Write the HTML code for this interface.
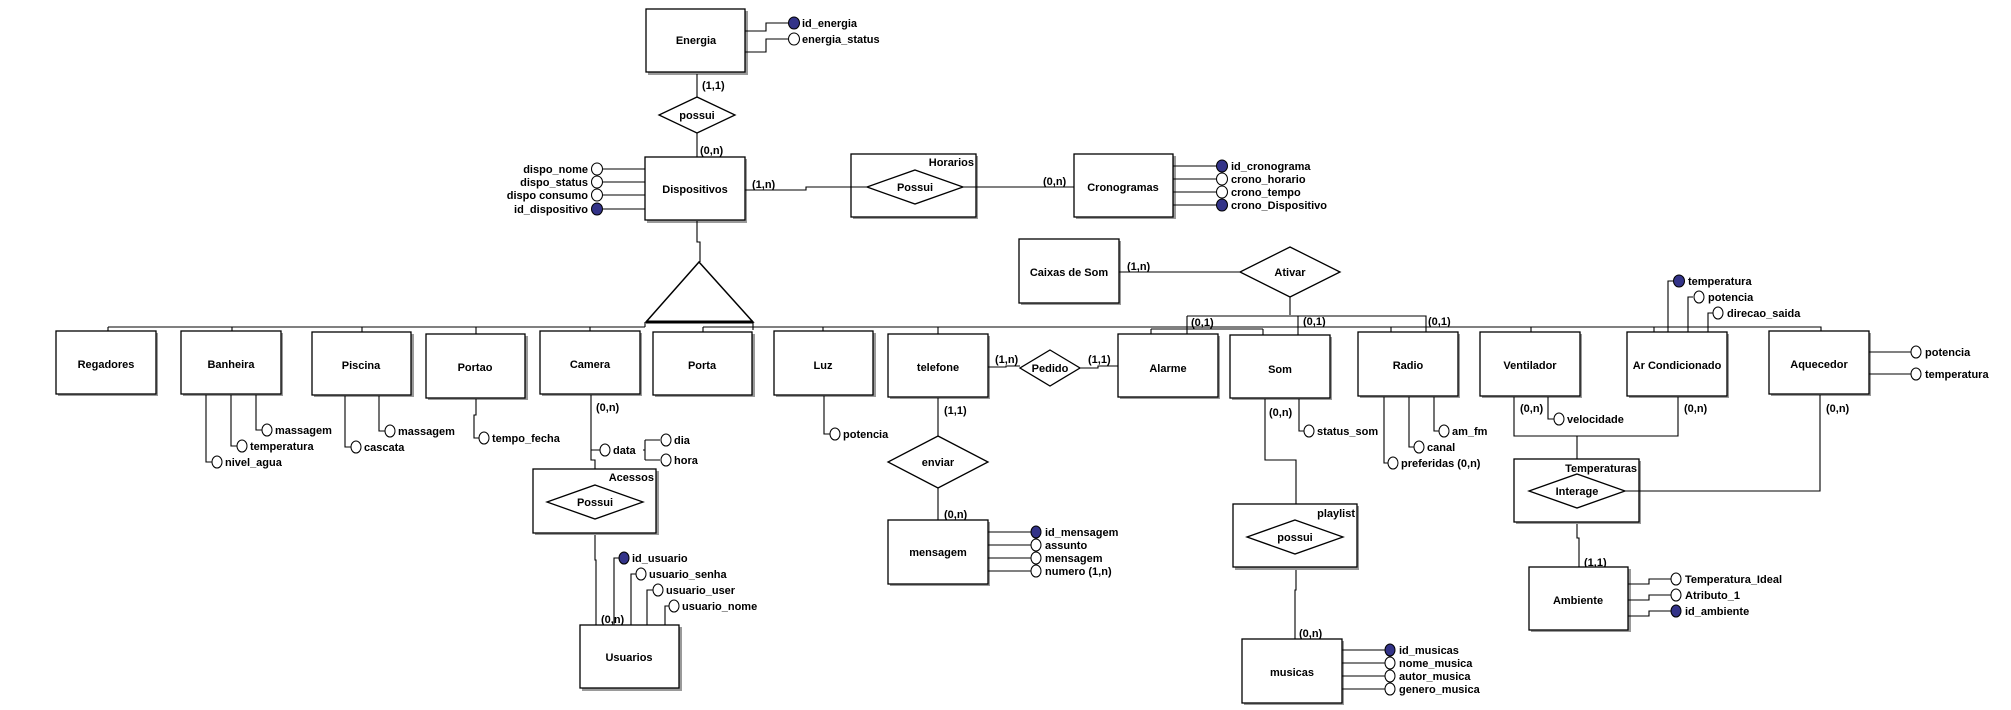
<!DOCTYPE html>
<html><head><meta charset="utf-8"><style>
html,body{margin:0;padding:0;background:#fff;}
svg{display:block;}
text{font-family:"Liberation Sans",Arial,sans-serif;font-weight:bold;font-size:11px;fill:#000;}
.b{fill:#fff;stroke:#000;stroke-width:1.3;}
.sh{fill:#9a9a9a;}
.l{fill:none;stroke:#000;stroke-width:1.1;}
.o{fill:#fff;stroke:#000;stroke-width:1;}
.f{fill:#333388;stroke:#000;stroke-width:1;}
</style></head><body>
<svg width="2011" height="710" viewBox="0 0 2011 710" xmlns="http://www.w3.org/2000/svg">
<defs></defs>
<!-- helper: boxes with shadow -->
<g id="boxes">
<!-- Energia -->
<rect class="sh" x="648" y="11" width="100" height="64"/><rect class="b" x="646" y="9" width="99" height="63"/>
<text x="696" y="44" text-anchor="middle">Energia</text>
<!-- Dispositivos -->
<rect class="sh" x="647" y="159" width="100" height="64"/><rect class="b" x="645" y="157" width="100" height="63"/>
<text x="695" y="193" text-anchor="middle">Dispositivos</text>
<!-- Horarios -->
<rect class="sh" x="853" y="156" width="125" height="63"/><rect class="b" x="851" y="154" width="125" height="63"/>
<text x="974" y="166" text-anchor="end">Horarios</text>
<!-- Cronogramas -->
<rect class="sh" x="1076" y="156" width="100" height="63"/><rect class="b" x="1074" y="154" width="99" height="63"/>
<text x="1123" y="191" text-anchor="middle">Cronogramas</text>
<!-- Caixas de Som -->
<rect class="sh" x="1021" y="241" width="100" height="64"/><rect class="b" x="1019" y="239" width="100" height="64"/>
<text x="1069" y="276" text-anchor="middle">Caixas de Som</text>
</g>

<!-- Energia attributes -->
<path class="l" d="M745 31 H766 V23 H788 M745 52 H766 V39 H788"/>
<ellipse class="f" cx="794" cy="23" rx="5.5" ry="6"/><text x="802" y="27">id_energia</text>
<ellipse class="o" cx="794" cy="39" rx="5.5" ry="6"/><text x="802" y="43">energia_status</text>

<!-- Energia - possui - Dispositivos -->
<path class="l" d="M697 74 V97 M697 133 V157"/>
<polygon class="b" points="697,97 735,115 697,133 659,115"/><text x="697" y="119" text-anchor="middle">possui</text>
<text x="702" y="89">(1,1)</text><text x="700" y="154">(0,n)</text>

<!-- Dispositivos attributes -->
<path class="l" d="M603 169 H645 M603 182 H645 M603 195 H645 M603 209 H645"/>
<ellipse class="o" cx="597" cy="169" rx="5.5" ry="6"/><text x="588" y="173" text-anchor="end">dispo_nome</text>
<ellipse class="o" cx="597" cy="182" rx="5.5" ry="6"/><text x="588" y="186" text-anchor="end">dispo_status</text>
<ellipse class="o" cx="597" cy="195" rx="5.5" ry="6"/><text x="588" y="199" text-anchor="end">dispo consumo</text>
<ellipse class="f" cx="597" cy="209" rx="5.5" ry="6"/><text x="588" y="213" text-anchor="end">id_dispositivo</text>

<!-- Dispositivos - Horarios - Cronogramas -->
<path class="l" d="M745 190 H806 V187 H867 M963 187 H1074"/>
<polygon class="b" points="915,170 963,187 915,204 867,187"/><text x="915" y="191" text-anchor="middle">Possui</text>
<text x="752" y="188">(1,n)</text><text x="1043" y="185">(0,n)</text>

<!-- Crono attributes -->
<path class="l" d="M1173 166 H1217 M1173 179 H1217 M1173 192 H1217 M1173 205 H1217"/>
<ellipse class="f" cx="1222" cy="166" rx="5.5" ry="6"/><text x="1231" y="170">id_cronograma</text>
<ellipse class="o" cx="1222" cy="179" rx="5.5" ry="6"/><text x="1231" y="183">crono_horario</text>
<ellipse class="o" cx="1222" cy="192" rx="5.5" ry="6"/><text x="1231" y="196">crono_tempo</text>
<ellipse class="f" cx="1222" cy="205" rx="5.5" ry="6"/><text x="1231" y="209">crono_Dispositivo</text>

<!-- Caixas - Ativar -->
<path class="l" d="M1119 272 H1240"/>
<polygon class="b" points="1290,247 1340,272 1290,297 1240,272"/><text x="1290" y="276" text-anchor="middle">Ativar</text>
<text x="1127" y="270">(1,n)</text>
<path class="l" d="M1290 297 V315 M1187 316 H1426 V332 M1187 316 V334 M1298 316 V335 M1151 329 H1263 M1151 329 V334 M1263 329 V335"/>
<text x="1191" y="326">(0,1)</text><text x="1303" y="325">(0,1)</text><text x="1428" y="325">(0,1)</text>

<!-- Generalization -->
<path class="l" d="M697 221 V242 H700 V262"/>
<polygon fill="#fff" stroke="#000" stroke-width="1.5" points="699,262 753,322 646,322"/>
<path stroke="#000" stroke-width="3" d="M646 322 H753"/>
<path class="l" d="M108 327 H645 M645 327 V322 M753 322 V330 M703 327 H1821 V331"/>
<path class="l" d="M108 327 V331 M232 327 V331 M362 327 V332 M476 327 V334 M590 327 V331 M703 327 V332 M823 327 V331 M938 327 V334 M1391 327 V332 M1531 327 V332 M1654 327 V332"/>

<!-- row boxes -->
<g>
<rect class="sh" x="58" y="333" width="100" height="63"/><rect class="b" x="56" y="331" width="100" height="63"/><text x="106" y="368" text-anchor="middle">Regadores</text>
<rect class="sh" x="183" y="333" width="100" height="63"/><rect class="b" x="181" y="331" width="100" height="63"/><text x="231" y="368" text-anchor="middle">Banheira</text>
<rect class="sh" x="314" y="334" width="100" height="63"/><rect class="b" x="312" y="332" width="99" height="63"/><text x="361" y="369" text-anchor="middle">Piscina</text>
<rect class="sh" x="428" y="336" width="100" height="64"/><rect class="b" x="426" y="334" width="99" height="64"/><text x="475" y="371" text-anchor="middle">Portao</text>
<rect class="sh" x="542" y="333" width="100" height="63"/><rect class="b" x="540" y="331" width="100" height="63"/><text x="590" y="368" text-anchor="middle">Camera</text>
<rect class="sh" x="655" y="334" width="100" height="63"/><rect class="b" x="653" y="332" width="99" height="63"/><text x="702" y="369" text-anchor="middle">Porta</text>
<rect class="sh" x="776" y="333" width="100" height="64"/><rect class="b" x="774" y="331" width="99" height="64"/><text x="823" y="369" text-anchor="middle">Luz</text>
<rect class="sh" x="890" y="336" width="100" height="63"/><rect class="b" x="888" y="334" width="100" height="63"/><text x="938" y="371" text-anchor="middle">telefone</text>
<rect class="sh" x="1120" y="336" width="100" height="63"/><rect class="b" x="1118" y="334" width="100" height="63"/><text x="1168" y="372" text-anchor="middle">Alarme</text>
<rect class="sh" x="1232" y="337" width="100" height="63"/><rect class="b" x="1230" y="335" width="100" height="63"/><text x="1280" y="373" text-anchor="middle">Som</text>
<rect class="sh" x="1360" y="334" width="100" height="64"/><rect class="b" x="1358" y="332" width="100" height="64"/><text x="1408" y="369" text-anchor="middle">Radio</text>
<rect class="sh" x="1482" y="334" width="100" height="64"/><rect class="b" x="1480" y="332" width="100" height="64"/><text x="1530" y="369" text-anchor="middle">Ventilador</text>
<rect class="sh" x="1629" y="334" width="100" height="64"/><rect class="b" x="1627" y="332" width="100" height="64"/><text x="1677" y="369" text-anchor="middle">Ar Condicionado</text>
<rect class="sh" x="1771" y="333" width="100" height="63"/><rect class="b" x="1769" y="331" width="100" height="63"/><text x="1819" y="368" text-anchor="middle">Aquecedor</text>
</g>

<!-- Banheira attrs -->
<path class="l" d="M206 395 V462 H212 M231 395 V446 H237 M256 395 V430 H262"/>
<ellipse class="o" cx="267" cy="430" rx="5" ry="6"/><text x="275" y="434">massagem</text>
<ellipse class="o" cx="242" cy="446" rx="5" ry="6"/><text x="250" y="450">temperatura</text>
<ellipse class="o" cx="217" cy="462" rx="5" ry="6"/><text x="225" y="466">nivel_agua</text>
<!-- Piscina -->
<path class="l" d="M345 396 V447 H351 M379 396 V431 H385"/>
<ellipse class="o" cx="390" cy="431" rx="5" ry="6"/><text x="398" y="435">massagem</text>
<ellipse class="o" cx="356" cy="447" rx="5" ry="6"/><text x="364" y="451">cascata</text>
<!-- Portao -->
<path class="l" d="M476 399 V415 H474 V438 H479"/>
<ellipse class="o" cx="484" cy="438" rx="5" ry="6"/><text x="492" y="442">tempo_fecha</text>
<!-- Luz -->
<path class="l" d="M824 396 V434 H830"/>
<ellipse class="o" cx="835" cy="434" rx="5" ry="6"/><text x="843" y="438">potencia</text>

<!-- Camera - Acessos - Usuarios -->
<path class="l" d="M591 395 V450 H600 M591 450 V460 H595 V484 M595 519 V560 H596 V625"/>
<text x="596" y="411">(0,n)</text>
<ellipse class="o" cx="605" cy="450" rx="5" ry="6"/><text x="613" y="454">data</text>
<path class="l" d="M643 450 H645 M645 440 V460 M645 440 H660 M645 460 H660"/>
<ellipse class="o" cx="666" cy="440" rx="5" ry="6"/><text x="674" y="444">dia</text>
<ellipse class="o" cx="666" cy="460" rx="5" ry="6"/><text x="674" y="464">hora</text>
<rect class="sh" x="535" y="471" width="124" height="64"/><rect class="b" x="533" y="469" width="123" height="64"/>
<text x="654" y="481" text-anchor="end">Acessos</text>
<polygon class="b" points="595,485 643,502 595,519 547,502"/><text x="595" y="506" text-anchor="middle">Possui</text>
<rect class="sh" x="582" y="627" width="100" height="64"/><rect class="b" x="580" y="625" width="99" height="63"/>
<text x="629" y="661" text-anchor="middle">Usuarios</text>
<text x="601" y="623">(0,n)</text>
<path class="l" d="M614 625 V558 H619 M631 625 V574 H636 M647 625 V590 H653 M665 625 V606 H669"/>
<ellipse class="f" cx="624" cy="558" rx="5" ry="6"/><text x="632" y="562">id_usuario</text>
<ellipse class="o" cx="641" cy="574" rx="5" ry="6"/><text x="649" y="578">usuario_senha</text>
<ellipse class="o" cx="658" cy="590" rx="5" ry="6"/><text x="666" y="594">usuario_user</text>
<ellipse class="o" cx="674" cy="606" rx="5" ry="6"/><text x="682" y="610">usuario_nome</text>

<!-- telefone - Pedido - Alarme -->
<path class="l" d="M988 367 H1006 V366 H1020 M1080 368 H1098 V366 H1118"/>
<polygon class="b" points="1050,350 1080,368 1050,386 1020,368"/><text x="1050" y="372" text-anchor="middle">Pedido</text>
<text x="995" y="363">(1,n)</text><text x="1088" y="363">(1,1)</text>
<!-- telefone - enviar - mensagem -->
<path class="l" d="M938 398 V436 M938 488 V520"/>
<text x="944" y="414">(1,1)</text><text x="944" y="518">(0,n)</text>
<polygon class="b" points="938,436 988,462 938,488 888,462"/><text x="938" y="466" text-anchor="middle">enviar</text>
<rect class="sh" x="890" y="522" width="100" height="64"/><rect class="b" x="888" y="520" width="100" height="64"/>
<text x="938" y="556" text-anchor="middle">mensagem</text>
<path class="l" d="M988 532 H1031 M988 545 H1031 M988 558 H1031 M988 571 H1031"/>
<ellipse class="f" cx="1036" cy="532" rx="5" ry="6"/><text x="1045" y="536">id_mensagem</text>
<ellipse class="o" cx="1036" cy="545" rx="5" ry="6"/><text x="1045" y="549">assunto</text>
<ellipse class="o" cx="1036" cy="558" rx="5" ry="6"/><text x="1045" y="562">mensagem</text>
<ellipse class="o" cx="1036" cy="571" rx="5" ry="6"/><text x="1045" y="575">numero (1,n)</text>

<!-- Som -->
<path class="l" d="M1265 399 V460 H1296 V520 M1296 554 V590 H1295 V639 M1299 399 V431 H1304"/>
<text x="1269" y="416">(0,n)</text>
<ellipse class="o" cx="1309" cy="431" rx="5" ry="6"/><text x="1317" y="435">status_som</text>
<rect class="sh" x="1235" y="506" width="124" height="64"/><rect class="b" x="1233" y="504" width="124" height="63"/>
<text x="1355" y="517" text-anchor="end">playlist</text>
<polygon class="b" points="1295,520 1343,537 1295,554 1247,537"/><text x="1295" y="541" text-anchor="middle">possui</text>
<text x="1299" y="637">(0,n)</text>
<rect class="sh" x="1244" y="641" width="100" height="64"/><rect class="b" x="1242" y="639" width="100" height="64"/>
<text x="1292" y="676" text-anchor="middle">musicas</text>
<path class="l" d="M1342 650 H1385 M1342 663 H1385 M1342 676 H1385 M1342 689 H1385"/>
<ellipse class="f" cx="1390" cy="650" rx="5" ry="6"/><text x="1399" y="654">id_musicas</text>
<ellipse class="o" cx="1390" cy="663" rx="5" ry="6"/><text x="1399" y="667">nome_musica</text>
<ellipse class="o" cx="1390" cy="676" rx="5" ry="6"/><text x="1399" y="680">autor_musica</text>
<ellipse class="o" cx="1390" cy="689" rx="5" ry="6"/><text x="1399" y="693">genero_musica</text>

<!-- Radio -->
<path class="l" d="M1384 397 V463 H1388 M1409 397 V447 H1414 M1434 397 V431 H1439"/>
<ellipse class="o" cx="1444" cy="431" rx="5" ry="6"/><text x="1452" y="435">am_fm</text>
<ellipse class="o" cx="1419" cy="447" rx="5" ry="6"/><text x="1427" y="451">canal</text>
<ellipse class="o" cx="1393" cy="463" rx="5" ry="6"/><text x="1401" y="467">preferidas (0,n)</text>

<!-- Ventilador / Ar / Temperaturas -->
<path class="l" d="M1514 397 V436 H1678 V397 M1548 397 V419 H1554 M1577 436 V474 M1577 508 V538 H1579 V567"/>
<text x="1520" y="412">(0,n)</text><text x="1684" y="412">(0,n)</text>
<ellipse class="o" cx="1559" cy="419" rx="5" ry="6"/><text x="1567" y="423">velocidade</text>
<rect class="sh" x="1516" y="461" width="125" height="63"/><rect class="b" x="1514" y="459" width="125" height="63"/>
<text x="1637" y="472" text-anchor="end">Temperaturas</text>
<polygon class="b" points="1577,474 1625,491 1577,508 1529,491"/><text x="1577" y="495" text-anchor="middle">Interage</text>
<path class="l" d="M1625 491 H1820 V395"/>
<text x="1826" y="412">(0,n)</text>
<text x="1584" y="566">(1,1)</text>
<rect class="sh" x="1531" y="569" width="100" height="63"/><rect class="b" x="1529" y="567" width="99" height="63"/>
<text x="1578" y="604" text-anchor="middle">Ambiente</text>
<path class="l" d="M1628 584 H1649 V579 H1671 M1628 600 H1649 V595 H1671 M1628 616 H1649 V611 H1671"/>
<ellipse class="o" cx="1676" cy="579" rx="5" ry="6"/><text x="1685" y="583">Temperatura_Ideal</text>
<ellipse class="o" cx="1676" cy="595" rx="5" ry="6"/><text x="1685" y="599">Atributo_1</text>
<ellipse class="f" cx="1676" cy="611" rx="5" ry="6"/><text x="1685" y="615">id_ambiente</text>

<!-- Ar Condicionado attrs -->
<path class="l" d="M1668 332 V281 H1673 M1688 332 V297 H1693 M1708 332 V313 H1713"/>
<ellipse class="f" cx="1679" cy="281" rx="5.5" ry="6"/><text x="1688" y="285">temperatura</text>
<ellipse class="o" cx="1699" cy="297" rx="5" ry="6"/><text x="1708" y="301">potencia</text>
<ellipse class="o" cx="1718" cy="313" rx="5" ry="6"/><text x="1727" y="317">direcao_saida</text>

<!-- Aquecedor attrs -->
<path class="l" d="M1869 352 H1911 M1869 374 H1911"/>
<ellipse class="o" cx="1916" cy="352" rx="5" ry="6"/><text x="1925" y="356">potencia</text>
<ellipse class="o" cx="1916" cy="374" rx="5" ry="6"/><text x="1925" y="378">temperatura</text>
</svg>
</body></html>
